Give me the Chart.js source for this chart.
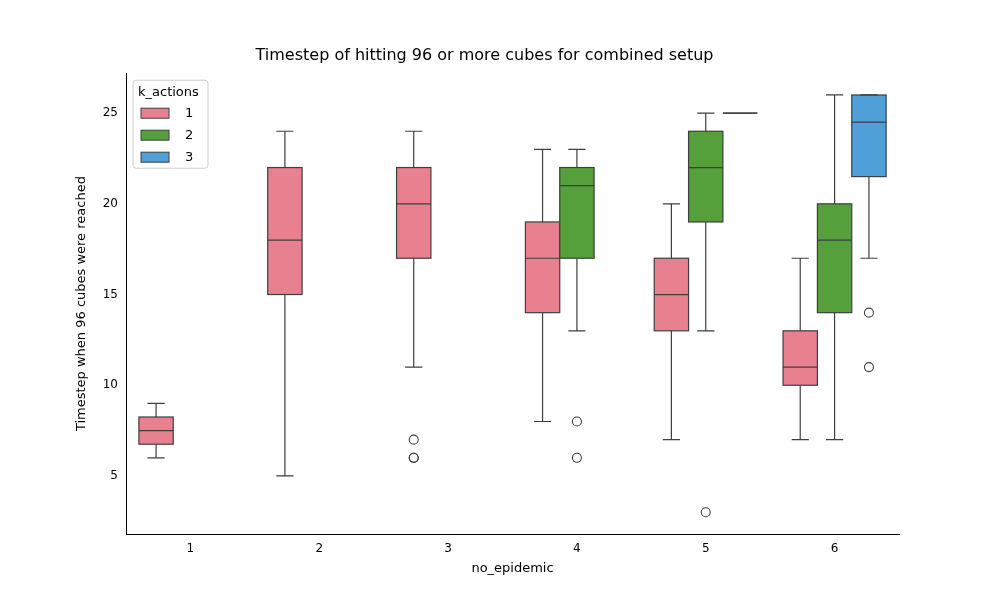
<!DOCTYPE html>
<html><head><meta charset="utf-8">
<script src="https://cdn.jsdelivr.net/npm/chart.js@4"></script>
<style>body{margin:0;background:#fff}#wrap{width:1000px;height:600px}</style>
</head><body><div id="wrap"><canvas id="c"></canvas></div>
<script>
// Data
const groups = [1, 2, 3, 4, 5, 6];
const hues = ['1', '2', '3'];
const colors = ['#e8808f', '#55a03a', '#4f9fd8'];
// [group, hue index, low whisker, q1, median, q3, high whisker]
const boxes = [
  [1, 0, 6, 6.75, 7.5, 8.25, 9],
  [2, 0, 5, 15, 18, 22, 24],
  [3, 0, 11, 17, 20, 22, 24],
  [4, 0, 8, 14, 17, 19, 23],
  [4, 1, 13, 17, 21, 22, 23],
  [5, 0, 7, 13, 15, 17, 20],
  [5, 1, 13, 19, 22, 24, 25],
  [5, 2, 25, 25, 25, 25, 25],
  [6, 0, 7, 10, 11, 13, 17],
  [6, 1, 7, 14, 18, 20, 26],
  [6, 2, 17, 21.5, 24.5, 26, 26]
];
// [group, hue index, value]
const outliers = [
  [3, 0, 7], [3, 0, 6], [3, 0, 6],
  [4, 1, 8], [4, 1, 6],
  [5, 1, 3],
  [6, 2, 14], [6, 2, 11]
];
const yTicks = [5, 10, 15, 20, 25];

const slot = 0.8 / 3;
const xOf = (g, h) => g + (h - 1) * slot;

const boxPlugin = {
  id: 'boxes',
  beforeDatasetsDraw(chart) {
    const {ctx, scales: {x, y}} = chart;
    ctx.save();
    ctx.strokeStyle = '#3f3f3f';
    ctx.lineWidth = 1.2;
    boxes.forEach(([g, h, lo, q1, md, q3, hi]) => {
      const cx = x.getPixelForValue(xOf(g, h));
      const half = (x.getPixelForValue(slot) - x.getPixelForValue(0)) / 2;
      const cap = half / 2;
      const pl = cx - half, pr = cx + half;
      ctx.fillStyle = colors[h];
      ctx.fillRect(pl, y.getPixelForValue(q3), pr - pl, y.getPixelForValue(q1) - y.getPixelForValue(q3));
      ctx.strokeRect(pl, y.getPixelForValue(q3), pr - pl, y.getPixelForValue(q1) - y.getPixelForValue(q3));
      ctx.beginPath();
      ctx.moveTo(cx, y.getPixelForValue(q3)); ctx.lineTo(cx, y.getPixelForValue(hi));
      ctx.moveTo(cx - cap, y.getPixelForValue(hi)); ctx.lineTo(cx + cap, y.getPixelForValue(hi));
      ctx.moveTo(cx, y.getPixelForValue(q1)); ctx.lineTo(cx, y.getPixelForValue(lo));
      ctx.moveTo(cx - cap, y.getPixelForValue(lo)); ctx.lineTo(cx + cap, y.getPixelForValue(lo));
      ctx.moveTo(pl, y.getPixelForValue(md)); ctx.lineTo(pr, y.getPixelForValue(md));
      ctx.stroke();
    });
    ctx.restore();
  },
  afterDraw(chart) {
    const {ctx, chartArea: a} = chart;
    ctx.save();
    const lx = a.left + 7, ly = a.top + 7;
    ctx.fillStyle = 'rgba(255,255,255,0.8)';
    ctx.strokeStyle = '#cccccc';
    ctx.lineWidth = 1;
    ctx.beginPath(); ctx.roundRect(lx, ly, 75, 88, 3); ctx.fill(); ctx.stroke();
    ctx.fillStyle = '#000';
    ctx.font = '13px "DejaVu Sans"';
    ctx.textBaseline = 'middle';
    ctx.fillText('k_actions', lx + 5, ly + 12);
    hues.forEach((h, i) => {
      const yy = ly + 33 + i * 22;
      ctx.fillStyle = colors[i];
      ctx.fillRect(lx + 8, yy - 5, 28, 10);
      ctx.strokeStyle = '#3f3f3f';
      ctx.strokeRect(lx + 8, yy - 5, 28, 10);
      ctx.fillStyle = '#000';
      ctx.fillText(h, lx + 52, yy);
    });
    ctx.restore();
  }
};

new Chart(document.getElementById('c'), {
  type: 'scatter',
  data: {
    datasets: [{
      data: outliers.map(([g, h, v]) => ({x: xOf(g, h), y: v})),
      pointRadius: 4.5,
      pointBackgroundColor: 'rgba(0,0,0,0)',
      pointBorderColor: '#3f3f3f',
      pointBorderWidth: 1.1
    }]
  },
  options: {
    responsive: true, maintainAspectRatio: false, animation: false,
    layout: {padding: {left: 70, right: 101, top: 0, bottom: 22}},
    plugins: {
      legend: {display: false}, tooltip: {enabled: false},
      title: {display: true, text: 'Timestep of hitting 96 or more cubes for combined setup',
        color: '#000', font: {size: 16, family: 'DejaVu Sans', weight: 'normal'}, padding: {top: 46, bottom: 8}}
    },
    scales: {
      x: {
        type: 'linear', min: 0.5, max: 6.5,
        afterBuildTicks: s => { s.ticks = groups.map(v => ({value: v})); },
        afterFit: s => { s.height = 44; },
        grid: {display: false, drawTicks: true, tickLength: 5},
        border: {color: '#000'},
        ticks: {color: '#000', font: {size: 12, family: 'DejaVu Sans'}},
        title: {display: true, text: 'no_epidemic', color: '#000', font: {size: 13, family: 'DejaVu Sans'}, padding: 2}
      },
      y: {
        min: 1.8, max: 27.2,
        afterBuildTicks: s => { s.ticks = yTicks.map(v => ({value: v})); },
        afterFit: s => { s.width = 56; },
        grid: {display: false, tickLength: 5},
        border: {color: '#000'},
        ticks: {color: '#000', font: {size: 12, family: 'DejaVu Sans'}},
        title: {display: true, text: 'Timestep when 96 cubes were reached', color: '#000', font: {size: 13, family: 'DejaVu Sans'}, padding: 4}
      }
    }
  },
  plugins: [boxPlugin]
});
</script></body></html>
